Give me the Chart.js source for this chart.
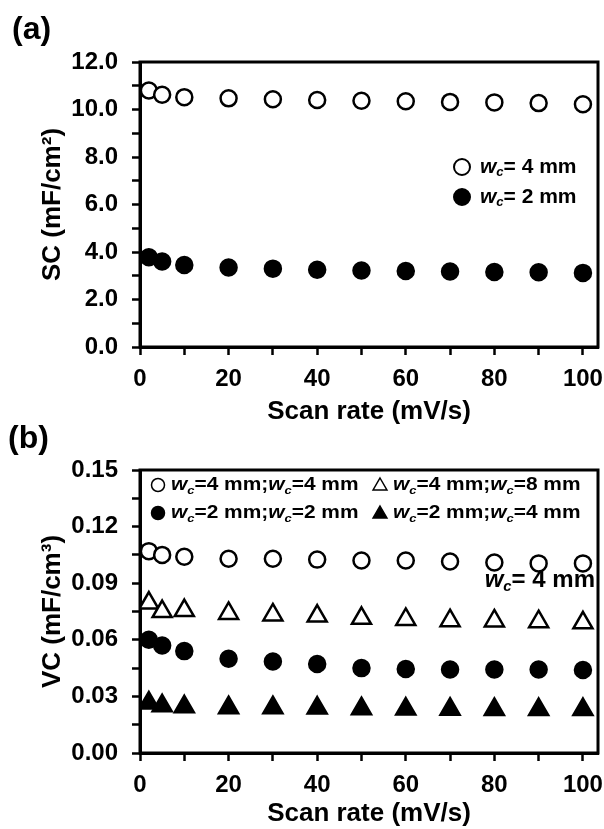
<!DOCTYPE html>
<html>
<head>
<meta charset="utf-8">
<script src="https://cdn.jsdelivr.net/npm/chart.js@4.4.1/dist/chart.umd.min.js"></script>
<style>
html, body { margin: 0; padding: 0; background: #fff; overflow: hidden; }
#wrapA { position: absolute; left: 0; top: 0; width: 604px; height: 427px; }
#wrapB { position: absolute; left: 0; top: 415px; width: 604px; height: 414px; }
</style>
</head>
<body>
<div id="wrapA"><canvas id="chartA" width="604" height="427"></canvas></div>
<div id="wrapB"><canvas id="chartB" width="604" height="414"></canvas></div>
<script>
// data
var scanRate = [2, 5, 10, 20, 30, 40, 50, 60, 70, 80, 90, 100];

// (a) specific capacitance, mF/cm2
var sc4mm = [10.8, 10.62, 10.52, 10.47, 10.43, 10.4, 10.37, 10.35, 10.32, 10.3, 10.27, 10.22];
var sc2mm = [3.78, 3.6, 3.45, 3.35, 3.3, 3.25, 3.22, 3.2, 3.18, 3.16, 3.15, 3.12];

// (b) volumetric capacitance, mF/cm3
var vc4and4 = [0.107, 0.105, 0.104, 0.103, 0.103, 0.1025, 0.102, 0.102, 0.1015, 0.101, 0.1005, 0.1005];
var vc4and8 = [0.0795, 0.075, 0.0755, 0.074, 0.0732, 0.0726, 0.0714, 0.0708, 0.0701, 0.07, 0.0696, 0.069];
var vc2and2 = [0.06, 0.057, 0.054, 0.05, 0.0485, 0.0472, 0.045, 0.0445, 0.0443, 0.0443, 0.0443, 0.044];
var vc2and4 = [0.0265, 0.025, 0.0245, 0.024, 0.024, 0.0238, 0.0235, 0.0233, 0.0232, 0.0231, 0.023, 0.023];

// labelled ticks (minor ticks sit halfway between)
var xLabels = [0, 20, 40, 60, 80, 100];
var scLabels = [0, 2, 4, 6, 8, 10, 12];
var vcLabels = [0, 0.03, 0.06, 0.09, 0.12, 0.15];

var legendA = ['wc= 4 mm', 'wc= 2 mm'];
var legendB = ['wc=4 mm;wc=4 mm', 'wc=4 mm;wc=8 mm', 'wc=2 mm;wc=2 mm', 'wc=2 mm;wc=4 mm'];
var noteB = 'wc= 4 mm';

var FONT = "'Liberation Sans', Arial, sans-serif";

function isLabelled(v, list) {
  for (var i = 0; i < list.length; i++) {
    if (Math.abs(v - list[i]) < 1e-6) return true;
  }
  return false;
}

// draws text where every "wc" becomes italic w with subscript c
function drawRich(ctx, text, x, y, size, align, sx) {
  var parts = [];
  var bits = text.split('wc');
  bits.forEach(function (b, i) {
    if (i > 0) {
      parts.push({ t: 'w', i: true });
      parts.push({ t: 'c', i: true, sub: true });
    }
    if (b) parts.push({ t: b });
  });
  function fontFor(p) {
    var s = p.sub ? size * 0.62 : size;
    return (p.i ? 'italic ' : '') + 'bold ' + s + 'px ' + FONT;
  }
  ctx.save();
  ctx.fillStyle = '#000';
  ctx.textBaseline = 'middle';
  ctx.textAlign = 'left';
  var w = 0;
  parts.forEach(function (p) { ctx.font = fontFor(p); w += ctx.measureText(p.t).width; });
  ctx.translate(x, y);
  ctx.scale(sx || 1, 1);
  var cx = align === 'right' ? -w : 0;
  parts.forEach(function (p) {
    ctx.font = fontFor(p);
    ctx.fillText(p.t, cx, p.sub ? size * 0.28 : 0);
    cx += ctx.measureText(p.t).width;
  });
  ctx.restore();
}

function drawMarker(ctx, style, filled, x, y, r, bw) {
  ctx.save();
  ctx.beginPath();
  if (style === 'triangle') {
    ctx.moveTo(x, y - r);
    ctx.lineTo(x + r * 0.866, y + r * 0.5);
    ctx.lineTo(x - r * 0.866, y + r * 0.5);
    ctx.closePath();
  } else {
    ctx.arc(x, y, r, 0, Math.PI * 2);
  }
  ctx.fillStyle = filled ? '#000' : '#fff';
  ctx.fill();
  ctx.lineWidth = bw;
  ctx.strokeStyle = '#000';
  ctx.stroke();
  ctx.restore();
}

// frame round the plot area, drawn under the points
var frame = {
  id: 'frame',
  beforeDatasetsDraw: function (chart) {
    var a = chart.chartArea, ctx = chart.ctx;
    ctx.save();
    ctx.lineWidth = 3;
    ctx.strokeStyle = '#000';
    ctx.strokeRect(a.left, a.top, a.right - a.left, a.bottom - a.top);
    ctx.restore();
  }
};

function panelLabel(ctx, text, x, y) {
  ctx.save();
  ctx.font = 'bold 32px ' + FONT;
  ctx.fillStyle = '#000';
  ctx.textBaseline = 'middle';
  ctx.fillText(text, x, y);
  ctx.restore();
}

function ds(label, values, style, filled, r, bw) {
  return {
    label: label,
    data: scanRate.map(function (x, i) { return { x: x, y: values[i] }; }),
    pointStyle: style,
    pointRadius: r,
    pointBorderWidth: bw,
    pointBorderColor: '#000',
    pointBackgroundColor: filled ? '#000' : '#fff',
    borderColor: '#000',
    backgroundColor: filled ? '#000' : '#fff',
    showLine: false
  };
}

function axes(yMin, yMax, yStep, yLabels, digits, yTitle, xHeight) {
  var tickFont = { family: FONT, size: 24, weight: 'bold' };
  var titleFont = { family: FONT, size: 26, weight: 'bold' };
  return {
    x: {
      type: 'linear', min: 0, max: 103.4,
      afterFit: function (s) { s.height = xHeight; s.paddingLeft = 0; s.paddingRight = 0; },
      border: { display: true, color: '#000', width: 3 },
      grid: { drawOnChartArea: false, drawTicks: true, tickLength: 8, tickWidth: 2.5, tickColor: '#000' },
      ticks: {
        stepSize: 10, includeBounds: false, maxRotation: 0, autoSkip: false,
        color: '#000', font: tickFont, padding: 10,
        callback: function (v) { return isLabelled(v, xLabels) ? String(v) : ''; }
      },
      title: { display: true, text: 'Scan rate (mV/s)', color: '#000', font: titleFont, padding: { top: 0, bottom: 0 } }
    },
    y: {
      type: 'linear', min: yMin, max: yMax,
      afterFit: function (s) { s.width = 140; s.paddingTop = 0; s.paddingBottom = 0; },
      border: { display: true, color: '#000', width: 3 },
      grid: { drawOnChartArea: false, drawTicks: true, tickLength: 8, tickWidth: 2.5, tickColor: '#000' },
      ticks: {
        stepSize: yStep, includeBounds: false, autoSkip: false,
        color: '#000', font: tickFont, padding: 14,
        callback: function (v) { return isLabelled(v, yLabels) ? v.toFixed(digits) : ''; }
      },
      title: { display: true, text: yTitle, color: '#000', font: titleFont, padding: { top: 37, bottom: 0 } }
    }
  };
}

var decorA = {
  id: 'decorA',
  afterDraw: function (chart) {
    var ctx = chart.ctx, a = chart.chartArea;
    panelLabel(ctx, '(a)', 12, 30);
    chart.data.datasets.forEach(function (d, i) {
      var y = a.top + 105 + i * 30;
      drawMarker(ctx, d.pointStyle, d.pointBackgroundColor === '#000', a.right - 136, y, 8, 2);
      drawRich(ctx, legendA[i], a.right - 118, y, 21, 'left', 1);
    });
  }
};

var decorB = {
  id: 'decorB',
  afterDraw: function (chart) {
    var ctx = chart.ctx, a = chart.chartArea;
    panelLabel(ctx, '(b)', 8, 24);
    chart.data.datasets.forEach(function (d, i) {
      var col = i % 2, row = Math.floor(i / 2);
      var mx = a.left + 18 + col * 222;
      var y = a.top + 15 + row * 28;
      var tri = d.pointStyle === 'triangle';
      drawMarker(ctx, d.pointStyle, d.pointBackgroundColor === '#000', mx, y + (tri ? 1 : 0), tri ? 8 : 6.5, 1.5);
      drawRich(ctx, legendB[i], mx + 13, y, 19, 'left', 1.1);
    });
    drawRich(ctx, noteB, a.right - 3, a.top + 110, 24, 'right', 1);
  }
};

new Chart(document.getElementById('chartA'), {
  type: 'scatter',
  data: {
    datasets: [
      ds('wc= 4 mm', sc4mm, 'circle', false, 8, 2.5),
      ds('wc= 2 mm', sc2mm, 'circle', true, 8, 2.5)
    ]
  },
  options: {
    responsive: false,
    animation: false,
    events: [],
    layout: { autoPadding: false, padding: { top: 62, right: 6, bottom: 0, left: 0 } },
    plugins: { legend: { display: false }, tooltip: { enabled: false } },
    scales: axes(0, 12, 1, scLabels, 1, 'SC (mF/cm\u00b2)', 80)
  },
  plugins: [frame, decorA]
});

new Chart(document.getElementById('chartB'), {
  type: 'scatter',
  data: {
    datasets: [
      ds('wc=4 mm;wc=4 mm', vc4and4, 'circle', false, 8, 2.5),
      ds('wc=4 mm;wc=8 mm', vc4and8, 'triangle', false, 11, 2.5),
      ds('wc=2 mm;wc=2 mm', vc2and2, 'circle', true, 8, 2.5),
      ds('wc=2 mm;wc=4 mm', vc2and4, 'triangle', true, 11, 2.5)
    ]
  },
  options: {
    responsive: false,
    animation: false,
    events: [],
    layout: { autoPadding: false, padding: { top: 55, right: 6, bottom: 0, left: 0 } },
    plugins: { legend: { display: false }, tooltip: { enabled: false } },
    scales: axes(0, 0.15, 0.015, vcLabels, 2, 'VC (mF/cm\u00b3)', 76)
  },
  plugins: [frame, decorB]
});
</script>
</body>
</html>
